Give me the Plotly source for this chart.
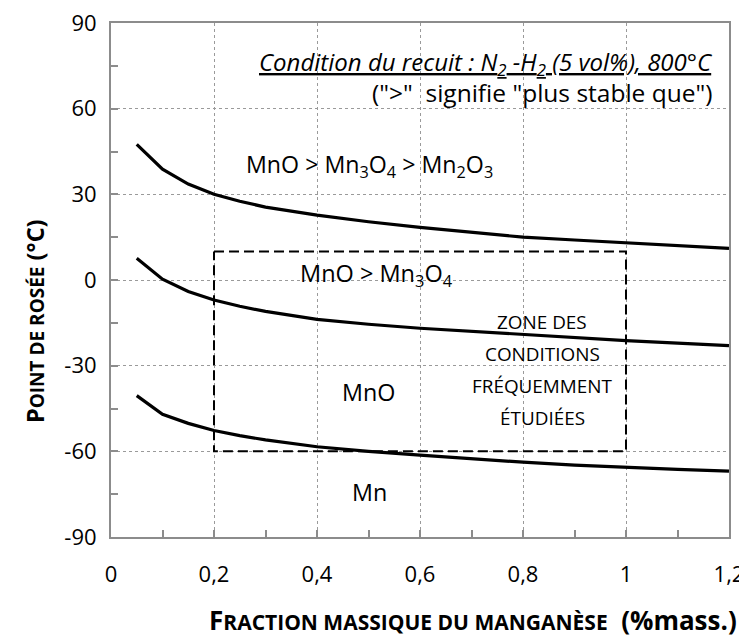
import plotly.graph_objects as go

# Mn mass fraction (%mass.)
x_mn = [0.05, 0.1, 0.15, 0.2, 0.25, 0.3, 0.4, 0.5, 0.6, 0.7, 0.8, 0.9, 1.0, 1.1, 1.2]
# Dew point boundaries (°C)
dp_mn3o4_mn2o3 = [47.5, 38.8, 33.6, 30.0, 27.6, 25.5, 22.7, 20.4, 18.4, 16.6, 15.0, 14.0, 13.1, 12.0, 11.1]
dp_mno_mn3o4 = [7.6, 0.3, -4.0, -7.0, -9.2, -11.0, -13.8, -15.5, -16.9, -18.0, -19.0, -20.1, -21.2, -22.1, -23.0]
dp_mn_mno = [-40.5, -47.0, -50.2, -52.7, -54.5, -56.0, -58.4, -60.0, -61.3, -62.6, -63.8, -64.8, -65.6, -66.3, -66.9]

# Frequently studied zone
box_x = [0.2, 1.0, 1.0, 0.2, 0.2]
box_y = [10, 10, -60, -60, 10]

x_ticks = [0, 0.2, 0.4, 0.6, 0.8, 1.0, 1.2]
x_tick_labels = ["0", "0,2", "0,4", "0,6", "0,8", "1", "1,2"]
y_ticks = [-90, -60, -30, 0, 30, 60, 90]
y_tick_labels = ["-90", "-60", "-30", "0", "30", "60", "90"]

zone_lines = ["ZONE DES", "CONDITIONS", "FRÉQUEMMENT", "ÉTUDIÉES"]
zone_line_y = [-14.6, -25.9, -37.1, -48.3]

FONT = "Open Sans"
GRAY = "#8c8c8c"

fig = go.Figure()
for ys in (dp_mn3o4_mn2o3, dp_mno_mn3o4, dp_mn_mno):
    fig.add_trace(go.Scatter(x=x_mn, y=ys, mode="lines",
                             line=dict(color="black", width=3.2),
                             showlegend=False, hoverinfo="skip"))
fig.add_trace(go.Scatter(x=box_x, y=box_y, mode="lines",
                         line=dict(color="black", width=2, dash="10px,5px"),
                         showlegend=False, hoverinfo="skip"))

ann = []
def add(text, x, y, size, xanchor="center", xref="x", yref="y", angle=0):
    ann.append(dict(text=text, x=x, y=y, xref=xref, yref=yref, showarrow=False,
                    xanchor=xanchor, yanchor="middle", textangle=angle,
                    font=dict(family=FONT, size=size, color="black")))

add("<i><u>Condition du recuit : N<sub>2</sub> -H<sub>2</sub> (5 vol%), 800°C</u></i>",
    1.173, 76.0, 24, xanchor="right")
add('("&gt;"  signifie "plus stable que")', 1.173, 65.5, 24.5, xanchor="right")
add("MnO &gt; Mn<sub>3</sub>O<sub>4</sub> &gt; Mn<sub>2</sub>O<sub>3</sub>", 0.501, 40.0, 23.2)
add("MnO &gt; Mn<sub>3</sub>O<sub>4</sub>", 0.515, 2.0, 23.5)
for t, yy in zip(zone_lines, zone_line_y):
    add(t, 0.837, yy, 18.9)
add("MnO", 0.5, -39.3, 23.3)
add("Mn", 0.501, -74.2, 23.3)

add("<b>F<span style='font-size:21px'>RACTION MASSIQUE DU MANGANÈSE</span>  (%mass.)</b>",
    0.585, -0.162, 26, xref="paper", yref="paper")
add("<b>P<span style='font-size:19px'>OINT DE ROSÉE</span> (°C)</b>",
    -0.123, 0.42, 23.5, xref="paper", yref="paper", angle=-90)

# the page is shown with an 8 px body offset, so the figure is kept 8 px smaller
fig.update_layout(
    width=739, height=632,
    margin=dict(l=103, r=18, t=15, b=103),
    paper_bgcolor="white", plot_bgcolor="white",
    font=dict(family=FONT, color="black"),
    annotations=ann,
)
axis_common = dict(
    showgrid=True, gridcolor="#9a9a9a", griddash="dot", gridwidth=1,
    showline=True, linecolor=GRAY, linewidth=2, mirror=True,
    ticks="inside", ticklen=7, tickcolor=GRAY, tickwidth=2, automargin=False,
    ticklabeloverflow="allow",
    zeroline=False, tickfont=dict(family=FONT, size=22, color="black"),
)
fig.update_xaxes(range=[0, 1.2], tickmode="array", tickvals=x_ticks, ticktext=x_tick_labels,
                 minor=dict(dtick=0.1, ticks="inside", ticklen=7, tickcolor=GRAY, tickwidth=2, showgrid=False),
                 ticklabelstandoff=17, **axis_common)
fig.update_yaxes(range=[-90, 90], tickmode="array", tickvals=y_ticks, ticktext=y_tick_labels,
                 minor=dict(dtick=15, tick0=0, ticks="inside", ticklen=7, tickcolor=GRAY, tickwidth=2, showgrid=False),
                 ticklabelstandoff=8, **axis_common)

fig.write_html("out.html")
